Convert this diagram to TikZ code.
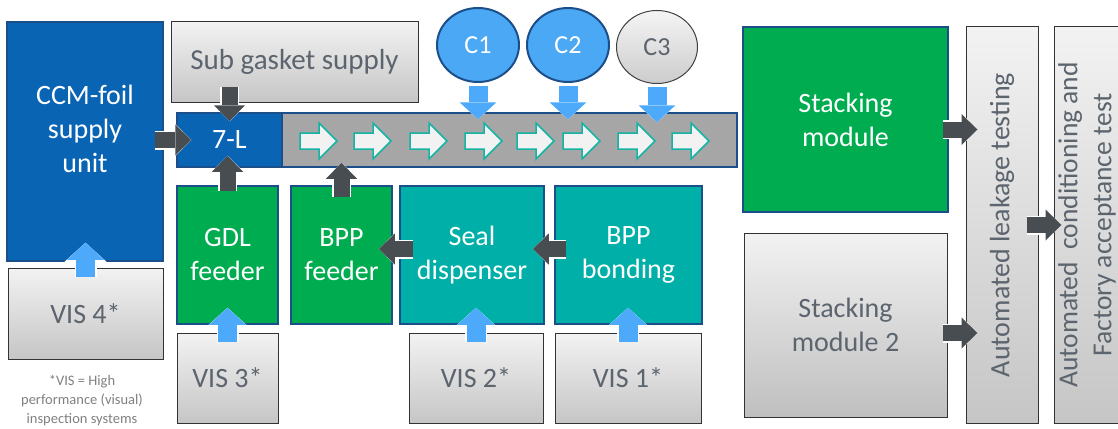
\documentclass[tikz,border=0pt]{standalone}
\usepackage{fontspec}
\setmainfont{Carlito}
\usetikzlibrary{arrows.meta,shapes.geometric,positioning}

\definecolor{ccmblue}{RGB}{10,100,180}
\definecolor{edgeblue}{RGB}{28,78,138}
\definecolor{cgreen}{RGB}{0,172,80}
\definecolor{cteal}{RGB}{0,176,168}
\definecolor{beltgray}{RGB}{166,166,166}
\definecolor{arrowdark}{RGB}{72,77,82}
\definecolor{arrowlight}{RGB}{77,170,250}
\definecolor{cbubble}{RGB}{75,168,245}
\definecolor{boxtext}{RGB}{92,100,110}
\definecolor{beltteal}{RGB}{20,180,165}

\tikzset{
  bigtext/.style={font=\fontsize{28}{34}\selectfont},
  unitbox/.style={draw=edgeblue, line width=1.5pt, inner sep=0pt, text=white, align=center, bigtext},
  bluebox/.style={unitbox, fill=ccmblue},
  greenbox/.style={unitbox, fill=cgreen},
  tealbox/.style={unitbox, fill=cteal},
  graybox/.style={draw=black!80, line width=1pt, top color=gray!10, bottom color=gray!45,
    inner sep=0pt, text=boxtext, align=center, bigtext},
  bubble/.style={ellipse, draw=edgeblue, line width=2pt, fill=cbubble, inner sep=0pt,
    minimum width=82pt, minimum height=74pt, text=white, font=\fontsize{26}{30}\selectfont},
  darrow/.style={draw=arrowdark, line width=16pt, -{Triangle[length=16pt,width=31pt,line width=0pt]},
    preaction={draw=white, line width=19pt, -{Triangle[length=18pt,width=36pt,line width=0pt]}}},
  larrow/.style={draw=arrowlight, line width=19pt, -{Triangle[length=17pt,width=37pt,line width=0pt]},
    preaction={draw=white, line width=22pt, -{Triangle[length=19pt,width=42pt,line width=0pt]}}},
  beltarrow/.style={draw=beltteal, line width=1.5pt, fill=gray!10, line join=miter},
}

\begin{document}
\begin{tikzpicture}[x=1pt, y=-1pt]
    \useasboundingbox (0,0) rectangle (1118,428);

    % Supply side
    \node[bluebox, minimum width=156pt, minimum height=239pt] (ccm) at (85,141.5) {};
    \node[text=white, align=center, bigtext] (ccmtxt) at (85,129) {CCM-foil\\supply\\unit};
    \node[graybox, minimum width=155pt, minimum height=91pt, font=\fontsize{28}{34}\selectfont] (vis4) at (85.5,313.5) {VIS 4*};
    \node[graybox, minimum width=247pt, minimum height=80pt, font=\fontsize{29}{34}\selectfont] (sub) at (294.5,62) {Sub gasket supply};
    \node[text=gray, align=center, font=\fontsize{14.5}{19}\selectfont] (note) at (82,401) {*VIS = High\\performance (visual)\\inspection systems};

    % Conveyor line with 7-L station
    \node[draw=edgeblue, line width=1.5pt, fill=beltgray, minimum width=560pt, minimum height=54pt] (conv) at (457,140) {};
    \node[bluebox, minimum width=105pt, minimum height=54pt] (sevenl) at (229.5,140) {7-L};
    \foreach \x in {300,354,410,465,517,563,618,672} {
        \draw[beltarrow] (\x,133) -- (\x+19,133) -- (\x+19,123) -- (\x+37,141)
            -- (\x+19,159) -- (\x+19,149) -- (\x,149) -- cycle;
    }

    % Component bubbles
    \node[bubble] (c1) at (478,45) {C1};
    \node[bubble] (c2) at (568,45) {C2};
    \node[bubble, draw=black!75, line width=1pt, top color=gray!8, bottom color=gray!40, text=boxtext,
        minimum width=81pt, minimum height=73pt] (c3) at (657,47) {C3};

    % Feeders
    \node[greenbox, minimum width=101pt, minimum height=138pt] (gdl) at (227.5,255) {GDL\\feeder};
    \node[greenbox, minimum width=101pt, minimum height=138pt] (bppf) at (341.5,255) {BPP\\feeder};
    \node[tealbox, minimum width=144pt, minimum height=138pt] (seal) at (472,255) {Seal\\dispenser};
    \node[tealbox, minimum width=147pt, minimum height=138pt] (bond) at (628.5,255) {BPP\\bonding};

    % Inspection
    \node[graybox, minimum width=101pt, minimum height=90pt, font=\fontsize{28}{34}\selectfont] (vis3) at (227.5,378) {VIS 3*};
    \node[graybox, minimum width=134pt, minimum height=90pt, font=\fontsize{28}{34}\selectfont] (vis2) at (476,378) {VIS 2*};
    \node[graybox, minimum width=146pt, minimum height=90pt, font=\fontsize{28}{34}\selectfont] (vis1) at (628,378) {VIS 1*};

    % Stacking and testing
    \node[greenbox, minimum width=205pt, minimum height=185pt] (stack) at (845.5,119.5) {Stacking\\module};
    \node[graybox, minimum width=203pt, minimum height=184pt, bottom color=gray!50] (stack2) at (845.5,325) {Stacking\\module 2};
    \node[graybox, minimum width=72pt, minimum height=396pt] (leak) at (1002,225) {};
    \node[rotate=90, text=boxtext, bigtext] (leaktxt) at (leak) {Automated leakage testing};
    \node[graybox, minimum width=71pt, minimum height=396pt] (fat) at (1089.5,225) {};
    \node[rotate=90, text=boxtext, align=center, font=\fontsize{27.5}{34}\selectfont] (fattxt) at (1087,225) {Automated\ \ conditioning and\\Factory acceptance test};

    % Material flow
    \draw[darrow, shorten <=-16pt, shorten >=-9pt] (sub.south -| sevenl) -- (sevenl.north);
    \draw[darrow, shorten <=-9pt, shorten >=-15pt] (ccm.east |- sevenl) -- (sevenl.west);
    \draw[darrow, shorten <=-6pt, shorten >=-12pt] (gdl.north) -- (gdl.north |- sevenl.south);
    \draw[darrow, shorten <=-12pt, shorten >=-5pt] (bppf.north) -- (bppf.north |- conv.south);
    \draw[darrow, shorten <=-14pt, shorten >=-14pt] ([yshift=6pt]seal.west) -- ([yshift=6pt]seal.west -| bppf.east);
    \draw[darrow, shorten <=-12pt, shorten >=-12pt] ([yshift=6pt]bond.west) -- ([yshift=6pt]bond.west -| seal.east);
    \draw[darrow, shorten <=-6pt, shorten >=-12pt] ([yshift=-10pt]stack.east) -- ([yshift=-10pt]stack.east -| leak.west);
    \draw[darrow, shorten <=-5pt, shorten >=-12pt] ([yshift=-8pt]stack2.east) -- ([yshift=-8pt]stack2.east -| leak.west);
    \draw[darrow, shorten <=-12pt, shorten >=-8pt] (leak.east) -- (fat.west);

    % Inspection and component feeds
    \draw[larrow, shorten <=-9pt, shorten >=-19pt] (vis4.north) -- (vis4.north |- ccm.south);
    \draw[larrow, shorten <=-9pt, shorten >=-17pt] (vis3.north) -- (vis3.north |- gdl.south);
    \draw[larrow, shorten <=-9pt, shorten >=-17pt] (vis2.north) -- (vis2.north |- seal.south);
    \draw[larrow, shorten <=-9pt, shorten >=-17pt] (vis1.north) -- (vis1.north |- bond.south);
    \draw[larrow, shorten <=3pt, shorten >=-7pt] (c1.south) -- (c1.south |- conv.north);
    \draw[larrow, shorten <=3pt, shorten >=-7pt] (c2.south) -- (c2.south |- conv.north);
    \draw[larrow, shorten <=3pt, shorten >=-10pt] (c3.south) -- (c3.south |- conv.north);
\end{tikzpicture}
\end{document}
